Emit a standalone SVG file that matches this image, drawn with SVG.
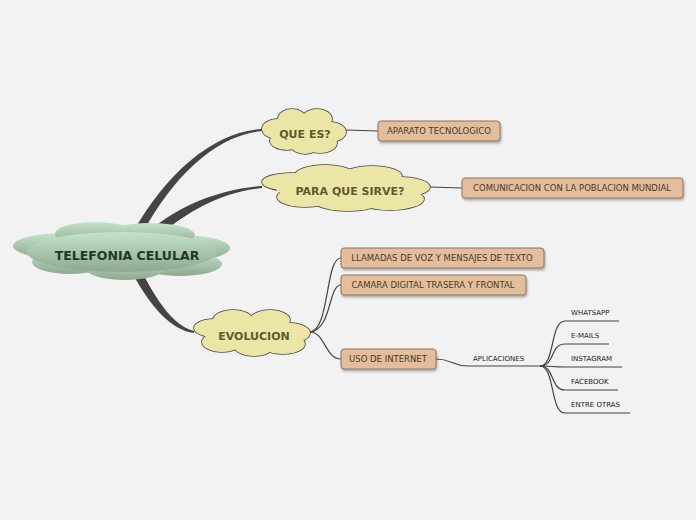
<svg xmlns="http://www.w3.org/2000/svg" width="696" height="520" viewBox="0 0 696 520">
<defs>
<linearGradient id="gc" x1="0" y1="0" x2="0" y2="1"><stop offset="0" stop-color="#c3e3c8"/><stop offset="1" stop-color="#8fa88f"/></linearGradient>
<filter id="sh" x="-10%" y="-30%" width="130%" height="180%"><feDropShadow dx="1" dy="2" stdDeviation="1" flood-color="#000" flood-opacity="0.3"/></filter>
</defs>
<style>
.t{font-family:"DejaVu Sans",sans-serif;font-weight:bold;fill:#5e5a30;font-size:11px;text-anchor:middle}
.bx{fill:#e3bd9c;stroke:#8a7460;stroke-width:1;filter:url(#sh)}
.bt{font-family:"DejaVu Sans",sans-serif;font-size:8.5px;fill:#4a3a2a;text-anchor:middle}
.lt{font-family:"DejaVu Sans",sans-serif;font-size:7px;fill:#222}
.ln{fill:none;stroke:#444;stroke-width:1.2}
.br{fill:#444}
.cy{fill:#ece6a6}
.cyo{fill:#ece6a6;stroke:#444;stroke-width:1.6}
</style>
<rect width="696" height="520" fill="#f2f2f2"/>
<g id="connectors">
<path class="br" d="M132,234 C168,170 215,132 262,129 L262,131 C216,136 175,174 142,234 Z"/>
<path class="br" d="M148,232 C180,205 220,189 262,186 L262,188 C222,192 190,210 158,236 Z"/>
<path class="br" d="M134,276 C150,305 170,330 194,333 L194,331 C174,326 158,302 144,276 Z"/>
<path class="ln" d="M346,130 L378,131"/>
<path class="ln" d="M430,187 L462,188"/>
<path class="ln" d="M310,332 C330,330 325,258 341,258"/>
<path class="ln" d="M310,332 C332,330 328,285 341,285"/>
<path class="ln" d="M310,332 C325,332 325,359 341,359"/>
<path class="ln" d="M436,359 C452,359 452,366 468,366 L540,366"/>
<path class="ln" d="M540,366 C555,366 550,321 565,321 L619,321"/>
<path class="ln" d="M540,366 C555,366 550,344 565,344 L609,344"/>
<path class="ln" d="M540,366 C555,366 550,367 565,367 L622,367"/>
<path class="ln" d="M540,366 C555,366 550,390 565,390 L618,390"/>
<path class="ln" d="M540,366 C555,366 550,413 565,413 L630,413"/>
</g>
<g id="central">
<g fill="url(#gc)">
<ellipse cx="65" cy="246" rx="52" ry="13"/><ellipse cx="180" cy="248" rx="50" ry="13"/>
<ellipse cx="95" cy="234" rx="40" ry="12"/><ellipse cx="150" cy="235" rx="45" ry="12"/>
<ellipse cx="70" cy="262" rx="38" ry="12"/><ellipse cx="180" cy="264" rx="42" ry="12"/>
<ellipse cx="125" cy="268" rx="40" ry="12"/><ellipse cx="122" cy="252" rx="95" ry="20"/>
</g>
<text x="127" y="260" font-family="DejaVu Sans,sans-serif" font-weight="bold" font-size="12.5" fill="#1e3a22" text-anchor="middle">TELEFONIA CELULAR</text>
</g>
<g id="quees">
<g class="cyo"><ellipse cx="292" cy="119" rx="14" ry="10"/><ellipse cx="317" cy="119" rx="15" ry="10"/><ellipse cx="278" cy="129" rx="16" ry="10"/><ellipse cx="330" cy="132" rx="16" ry="10"/><ellipse cx="287" cy="141" rx="17" ry="9"/><ellipse cx="320" cy="143" rx="17" ry="10"/><ellipse cx="305" cy="145" rx="14" ry="9"/></g>
<g class="cy"><ellipse cx="292" cy="119" rx="14" ry="10"/><ellipse cx="317" cy="119" rx="15" ry="10"/><ellipse cx="278" cy="129" rx="16" ry="10"/><ellipse cx="330" cy="132" rx="16" ry="10"/><ellipse cx="287" cy="141" rx="17" ry="9"/><ellipse cx="320" cy="143" rx="17" ry="10"/><ellipse cx="305" cy="145" rx="14" ry="9"/><ellipse cx="304" cy="131" rx="32" ry="15"/></g>
<text class="t" x="305" y="138">QUE ES?</text>
</g>
<g id="para">
<g class="cyo"><ellipse cx="325" cy="175" rx="30" ry="10"/><ellipse cx="372" cy="176" rx="30" ry="10"/><ellipse cx="292" cy="182" rx="30" ry="9"/><ellipse cx="400" cy="187" rx="30" ry="10"/><ellipse cx="305" cy="197" rx="28" ry="10"/><ellipse cx="390" cy="199" rx="34" ry="11"/><ellipse cx="348" cy="201" rx="34" ry="10"/></g>
<g class="cy"><ellipse cx="325" cy="175" rx="30" ry="10"/><ellipse cx="372" cy="176" rx="30" ry="10"/><ellipse cx="292" cy="182" rx="30" ry="9"/><ellipse cx="400" cy="187" rx="30" ry="10"/><ellipse cx="305" cy="197" rx="28" ry="10"/><ellipse cx="390" cy="199" rx="34" ry="11"/><ellipse cx="348" cy="201" rx="34" ry="10"/><ellipse cx="346" cy="188" rx="70" ry="14"/></g>
<text class="t" x="350" y="195">PARA QUE SIRVE?</text>
</g>
<g id="evol">
<g class="cyo"><ellipse cx="233" cy="320" rx="20" ry="10"/><ellipse cx="270" cy="320" rx="20" ry="10"/><ellipse cx="214" cy="328" rx="20" ry="9"/><ellipse cx="290" cy="333" rx="20" ry="10"/><ellipse cx="222" cy="342" rx="20" ry="10"/><ellipse cx="283" cy="344" rx="22" ry="10"/><ellipse cx="254" cy="346" rx="20" ry="10"/></g>
<g class="cy"><ellipse cx="233" cy="320" rx="20" ry="10"/><ellipse cx="270" cy="320" rx="20" ry="10"/><ellipse cx="214" cy="328" rx="20" ry="9"/><ellipse cx="290" cy="333" rx="20" ry="10"/><ellipse cx="222" cy="342" rx="20" ry="10"/><ellipse cx="283" cy="344" rx="22" ry="10"/><ellipse cx="254" cy="346" rx="20" ry="10"/><ellipse cx="253" cy="333" rx="48" ry="14"/></g>
<text class="t" x="254" y="340">EVOLUCION</text>
</g>
<g id="aparato"><rect class="bx" x="378" y="121" width="122" height="20" rx="3"/><text class="bt" x="439" y="134">APARATO TECNOLOGICO</text></g>
<g id="comunicacion"><rect class="bx" x="462" y="178" width="221" height="20" rx="3"/><text class="bt" x="572" y="191">COMUNICACION CON LA POBLACION MUNDIAL</text></g>
<g id="llamadas"><rect class="bx" x="341" y="248" width="203" height="20" rx="3"/><text class="bt" x="442" y="261">LLAMADAS DE VOZ Y MENSAJES DE TEXTO</text></g>
<g id="camara"><rect class="bx" x="341" y="275" width="185" height="20" rx="3"/><text class="bt" x="433" y="288">CAMARA DIGITAL TRASERA Y FRONTAL</text></g>
<g id="uso"><rect class="bx" x="341" y="349" width="95" height="20" rx="3"/><text class="bt" x="388" y="362">USO DE INTERNET</text></g>
<g id="leaves">
<text class="lt" x="473" y="361">APLICACIONES</text>
<text class="lt" x="571" y="315">WHATSAPP</text>
<text class="lt" x="571" y="338">E-MAILS</text>
<text class="lt" x="571" y="361">INSTAGRAM</text>
<text class="lt" x="571" y="384">FACEBOOK</text>
<text class="lt" x="571" y="407">ENTRE OTRAS</text>
</g>
</svg>
